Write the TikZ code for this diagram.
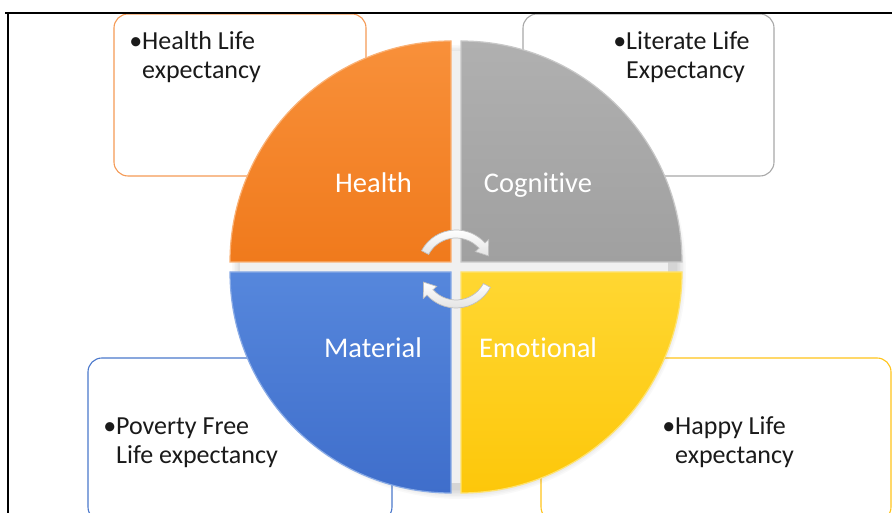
\documentclass[tikz,border=0pt]{standalone}
\usepackage{fontspec}
\setmainfont{Carlito}[Ligatures=NoCommon, Contextuals=NoAlternate]
\usetikzlibrary{arrows.meta}
\definecolor{orA}{HTML}{F8903A}
\definecolor{orB}{HTML}{F07A1C}
\definecolor{grA}{HTML}{B0B0B0}
\definecolor{grB}{HTML}{A0A0A0}
\definecolor{blA}{HTML}{5687DC}
\definecolor{blB}{HTML}{3F6ECB}
\definecolor{ylA}{HTML}{FFD732}
\definecolor{ylB}{HTML}{FDC70A}
\definecolor{orLine}{HTML}{F59A55}
\definecolor{grLine}{HTML}{A8A8A8}
\definecolor{blLine}{HTML}{4A78CC}
\definecolor{ylLine}{HTML}{FFC41A}
\definecolor{txt}{HTML}{1A1A1A}
\tikzset{
  infobox/.style={fill=white, line width=1.1pt, rounded corners=14pt},
  quad/.style={line width=1.2pt},
  qlabel/.style={anchor=base, inner sep=0pt, text=white, font=\fontsize{28.5}{30}\selectfont},
  btext/.style={anchor=base west, inner sep=0pt, text=txt, font=\fontsize{26}{29}\selectfont},
  cyc/.style={top color=white, bottom color=gray!22, draw=gray!50, line width=0.7pt},
}
\begin{document}
\begin{tikzpicture}[x=1pt,y=1pt]
\clip (0,0) rectangle (892,513);
\fill[white] (0,0) rectangle (892,513);

% information boxes (behind the circle)
\draw[infobox, draw=orLine] (114,337) rectangle (366,499);
\draw[infobox, draw=grLine] (523,337) rectangle (774,499);
\draw[infobox, draw=blLine] (88,-8) rectangle (392,155);
\draw[infobox, draw=ylLine] (541,-8) rectangle (891,155);

% box texts
\node[btext] (h1) at (142,463) {\llap{•}Health Life};
\node[btext] (h2) at (142,434) {expectancy};
\node[btext] (l1) at (626,463) {\llap{•}Literate Life};
\node[btext] (l2) at (626,434) {Expectancy};
\node[btext] (p1) at (116,78) {\llap{•}Poverty Free};
\node[btext] (p2) at (116,49) {Life expectancy};
\node[btext] (y1) at (675,78) {\llap{•}Happy Life};
\node[btext] (y2) at (675,49) {expectancy};

% soft shadow of the circle
\foreach \i in {0,...,6}
  \fill[black, opacity=0.022] (459,241) circle ({218+1.5*\i});
\fill[gray!12] (451,30) rectangle (461,462);
\fill[gray!12] (240,241) rectangle (668,251);

% quadrants
\path[quad, top color=orA, bottom color=orB, draw=orA!70!white]
  (451,251) -- (230,251) arc[start angle=180, end angle=90, radius=221] -- cycle;
\path[quad, top color=grA, bottom color=grB, draw=grA!70!white]
  (461,251) -- (461,472) arc[start angle=90, end angle=0, radius=221] -- cycle;
\path[quad, top color=ylA, bottom color=ylB, draw=ylA!70!white]
  (461,241) -- (682,241) arc[start angle=0, end angle=-90, radius=221] -- cycle;
\path[quad, top color=blA, bottom color=blB, draw=blA!70!white]
  (451,241) -- (451,20) arc[start angle=270, end angle=180, radius=221] -- cycle;

% quadrant labels
\node[qlabel] (health) at (373.5,320) {Health};
\node[qlabel] (cog) at (538,320) {Cognitive};
\node[qlabel] (mat) at (373,155) {Material};
\node[qlabel] (emo) at (538,155) {Emotional};

% cycle arrows in the middle
\begin{scope}[shift={(456,244)}]
  \path[cyc] (152:39) arc[start angle=152, end angle=42, radius=39]
    -- (42:44) -- (22:35) -- (42:26) -- (42:31)
    arc[start angle=42, end angle=152, radius=31] -- cycle;
  \path[cyc, rotate=180] (152:39) arc[start angle=152, end angle=42, radius=39]
    -- (42:44) -- (22:35) -- (42:26) -- (42:31)
    arc[start angle=42, end angle=152, radius=31] -- cycle;
\end{scope}

% outer frame
\draw[line width=2.2pt] (8,0) -- (8,500) -- (892,500);
\draw[line width=2.2pt] (5,500) -- (8,500);
\end{tikzpicture}
\end{document}
